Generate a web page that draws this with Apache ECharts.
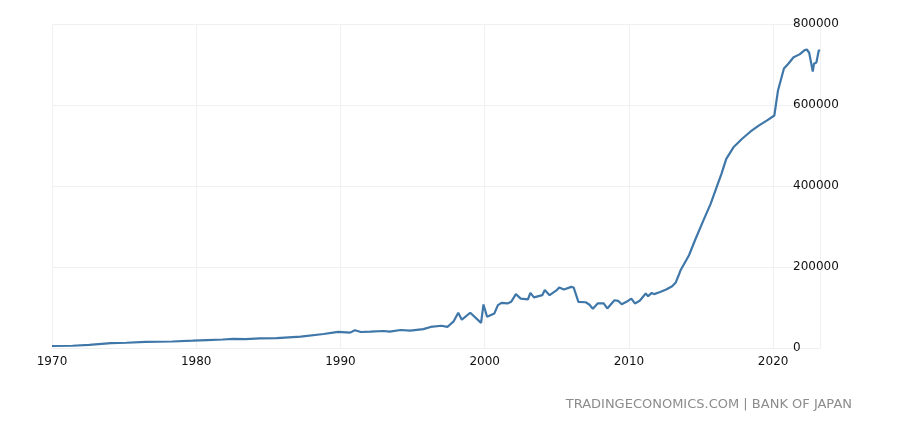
<!DOCTYPE html>
<html>
<head>
<meta charset="utf-8">
<script src="https://cdn.jsdelivr.net/npm/echarts@6/dist/echarts.min.js"></script>
<style>
  html, body { margin: 0; padding: 0; background: #fff; }
  #chart { width: 912px; height: 425px; }
</style>
</head>
<body>
<div id="chart"></div>
<script>
// 读图估计的数值（月份 -> 数值）
const dates = [
  '1970-01', '1971-06', '1972-08', '1974-02', '1975-03', '1976-07', '1978-05', '1979-10',
  '1980-10', '1981-11', '1982-08', '1983-06', '1984-06', '1985-08', '1987-04', '1988-11',
  '1989-11', '1990-09', '1991-01', '1991-06', '1992-02', '1993-01', '1993-06', '1994-03',
  '1994-11', '1995-10', '1996-04', '1997-01', '1997-06', '1997-09', '1997-11', '1998-03',
  '1998-06', '1999-01', '1999-10', '1999-12', '2000-03', '2000-09', '2000-12', '2001-03',
  '2001-08', '2001-11', '2002-03', '2002-07', '2003-01', '2003-03', '2003-06', '2004-01',
  '2004-03', '2004-07', '2005-01', '2005-03', '2005-07', '2006-01', '2006-03', '2006-07',
  '2007-01', '2007-04', '2007-07', '2007-11', '2008-04', '2008-07', '2009-01', '2009-04',
  '2009-07', '2009-11', '2010-03', '2010-06', '2010-10', '2011-03', '2011-05', '2011-08',
  '2011-10', '2012-03', '2012-08', '2013-01', '2013-04', '2013-07', '2013-08', '2014-03',
  '2014-08', '2015-03', '2015-09', '2016-02', '2016-06', '2016-10', '2017-04', '2017-11',
  '2018-06', '2019-01', '2019-08', '2020-02', '2020-05', '2020-10', '2021-02', '2021-06',
  '2021-11', '2022-03', '2022-05', '2022-07', '2022-10', '2022-11', '2023-01', '2023-03',
  '2023-04'
];
const values = [
  5000, 5500, 7500, 12000, 13000, 15000, 16000, 18000,
  19500, 21000, 22500, 22000, 24000, 24500, 28000, 34500,
  40000, 38000, 44000, 39500, 40500, 42000, 40500, 44500,
  43000, 46500, 52000, 55000, 52000, 60000, 65000, 87000,
  70000, 87000, 62000, 107500, 77000, 85000, 106000, 111500,
  110000, 114000, 133000, 122000, 120000, 136000, 125000, 130500,
  143000, 130500, 143000, 149500, 144500, 151000, 149500, 114000,
  113000, 107500, 97000, 110000, 110000, 97700, 118000, 116500,
  108000, 114000, 122000, 110000, 116500, 134500, 128000, 136000,
  133000, 138500, 144500, 152500, 162000, 184000, 192000, 229000,
  266000, 315000, 356000, 397000, 430000, 467000, 495500, 516000,
  534000, 549000, 562000, 574000, 635000, 690000, 703000, 718000,
  725000, 735000, 737000, 729000, 682500, 702000, 705000, 735000,
  734000
];
const yTicks = [0, 200000, 400000, 600000, 800000];
const sourceText = 'TRADINGECONOMICS.COM | BANK OF JAPAN';

// 月份字符串转成小数年份
function toYear(d) {
  const [y, m] = d.split('-').map(Number);
  return y + (m - 1) / 12;
}

const seriesData = dates.map((d, i) => [toYear(d), values[i]]);
const lastYear = toYear(dates[dates.length - 1]);

const chart = echarts.init(document.getElementById('chart'));

chart.setOption({
  animation: false,
  backgroundColor: '#ffffff',
  textStyle: { fontFamily: 'DejaVu Sans' },
  title: {
    text: sourceText,
    right: 55,
    top: 393,
    textStyle: { fontSize: 13, fontWeight: 'normal', color: '#8c8c8c', fontFamily: 'DejaVu Sans' }
  },
  grid: { left: 52, right: 92, top: 24, bottom: 77 },
  xAxis: {
    type: 'value',
    min: 1970,
    max: lastYear,
    interval: 10,
    axisLine: { show: true, lineStyle: { color: '#eeeeee' } },
    axisTick: { show: false },
    axisLabel: {
      color: '#111',
      fontSize: 12,
      margin: 8,
      showMaxLabel: false,
      formatter: (v) => (v % 10 === 0 ? String(v) : '')
    },
    splitLine: { show: true, lineStyle: { color: '#f0f0f0' } }
  },
  yAxis: {
    type: 'value',
    position: 'right',
    min: yTicks[0],
    max: yTicks[yTicks.length - 1],
    interval: 200000,
    axisLine: { show: false },
    axisTick: { show: false },
    axisLabel: { color: '#111', fontSize: 12, margin: -27, formatter: (v) => String(v) },
    splitLine: { lineStyle: { color: '#f0f0f0' } }
  },
  series: [
    {
      type: 'line',
      data: seriesData,
      symbol: 'none',
      lineStyle: { color: '#3f77a9', width: 2.2 }
    }
  ]
});
</script>
</body>
</html>
